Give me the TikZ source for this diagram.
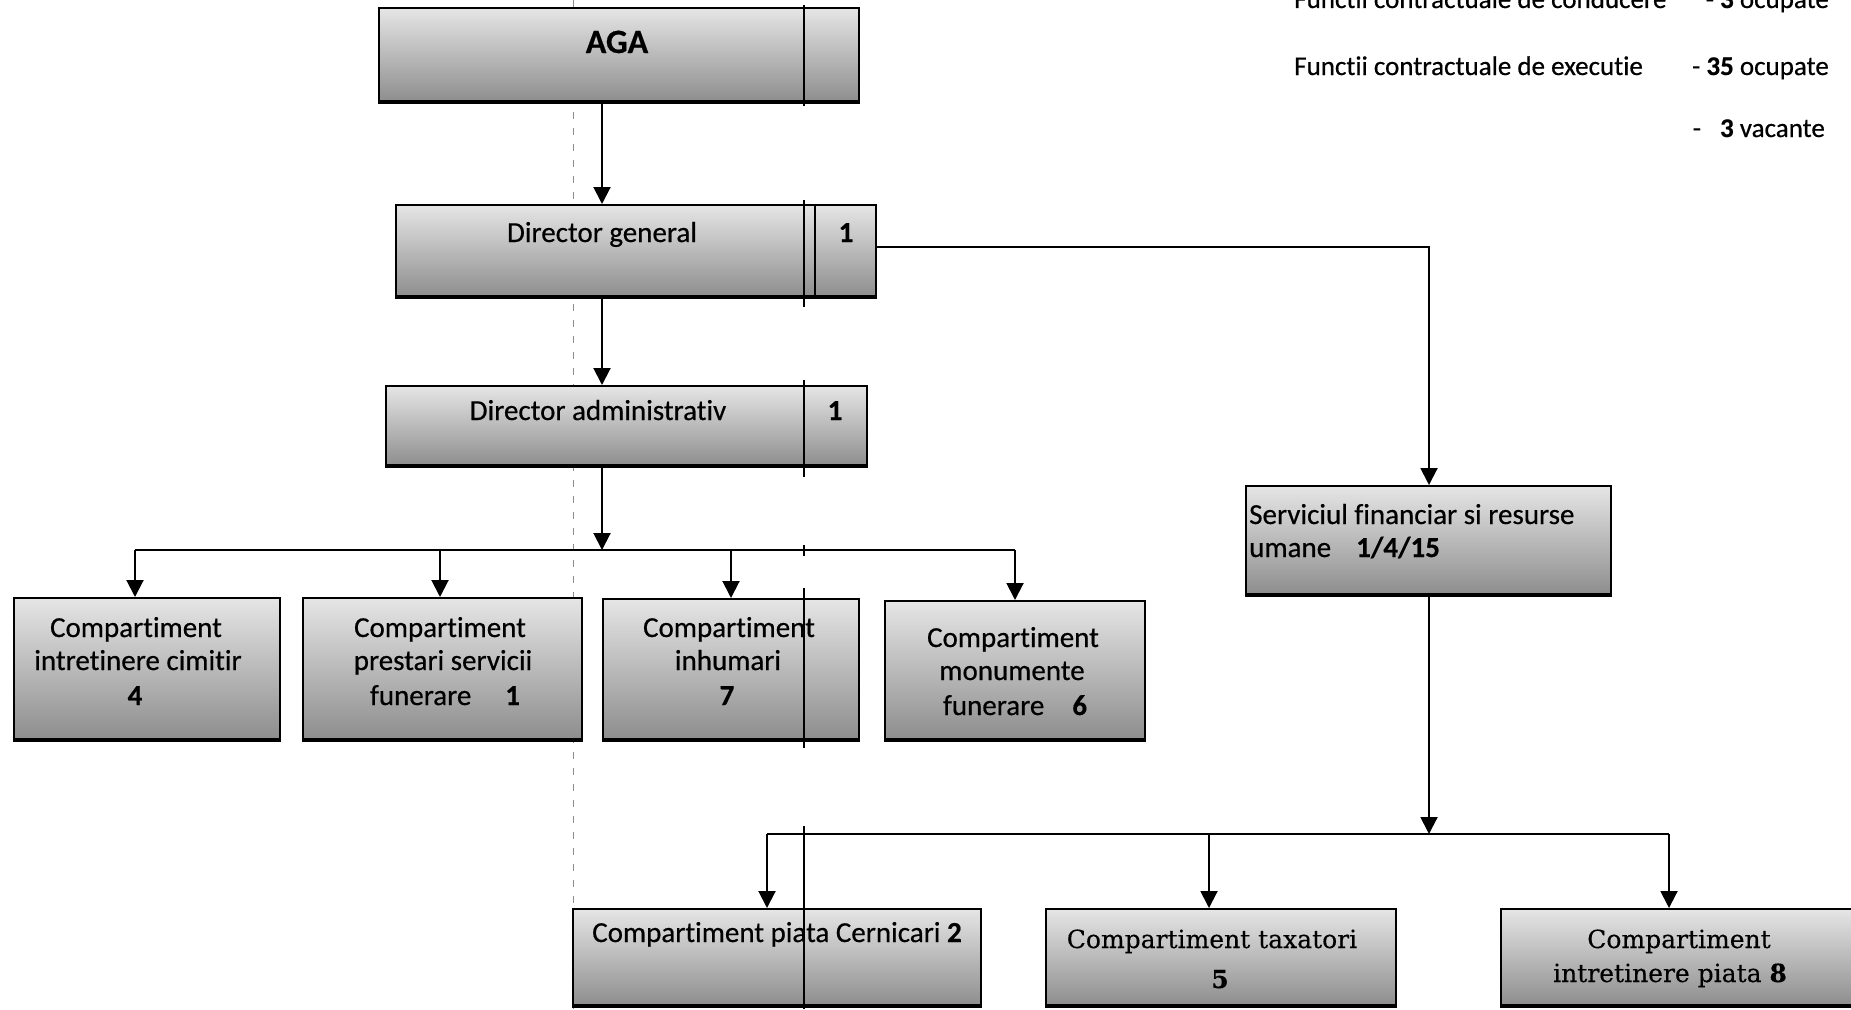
\documentclass[tikz,border=0pt]{standalone}
\usepackage{fontspec}
\setmainfont{Carlito}[Ligatures=NoCommon, FakeBold=0.5]
\newfontfamily\cambriaish{DejaVu Serif}[Ligatures=NoCommon, FakeBold=0.3]
\usetikzlibrary{arrows.meta}
\newcommand\orgbx[5]{%
  \node[orgbox, minimum width={#4pt-#2pt}, minimum height={#5pt-#3pt}] (#1) at (#2,#3) {};
  \draw[line width=4pt] ([yshift=1.5pt]#1.south west) -- ([yshift=1.5pt]#1.south east);}
\begin{document}
\begin{tikzpicture}[x=1pt,y=-1pt,
  orgbox/.style={rectangle, draw=black, line width=1.8pt, top color=black!10, bottom color=black!45, inner sep=0pt, anchor=north west},
  txt/.style={font=\fontsize{29}{35}\selectfont, inner sep=0pt, anchor=base},
  txtl/.style={txt, anchor=base west},
  stxt/.style={font=\cambriaish\fontsize{25}{30}\selectfont, inner sep=0pt, anchor=base},
  note/.style={font=\fontsize{27}{32}\selectfont, inner sep=0pt},
  arr/.style={line width=2pt, -{Triangle[width=17pt,length=17pt]}},
  ln/.style={line width=2pt},
  fold/.style={line width=1.6pt},
  foldd/.style={line width=0.9pt, black!45, dash pattern=on 7pt off 9pt}]
\path[fill=white] (0,0) rectangle (1851,1009);
\useasboundingbox (0,0) rectangle (1851,1009);
\clip (0,0) rectangle (1851,1009);

% scan fold line (dashed)
\draw[foldd] (573,0) -- (573,1009);

% boxes
\orgbx{aga}{378}{7}{858}{102}
\orgbx{dg}{395}{204}{875}{297}
\orgbx{da}{385}{385}{866}{466}
\orgbx{ca}{13}{597}{279}{740}
\orgbx{cb}{302}{597}{581}{740}
\orgbx{cc}{602}{598}{858}{740}
\orgbx{cd}{884}{600}{1144}{740}
\orgbx{serv}{1245}{485}{1610}{595}
\orgbx{ba}{572}{908}{980}{1006}
\orgbx{bb}{1045}{908}{1395}{1006}
\orgbx{bc}{1500}{908}{1870}{1006}

% separators and fold lines
\draw[fold] (dg.north -| 815,0) -- (dg.south -| 815,0);
\draw[fold] (804,5) -- (804,106);
\draw[fold] (804,200) -- (804,307);
\draw[fold] (804,380) -- (804,477);
\draw[fold] (804,545) -- (804,556);
\draw[fold] (804,588) -- (804,748);
\draw[fold] (804,826) -- (804,1009);

% texts
\node[txt, font=\fontsize{34}{40}\selectfont\bfseries] (tAGA) at (617,53) {AGA};
\node[txt] (tDG) at (602,242) {Director general};
\node[txt] (tDG1) at (846,242) {\textbf{1}};
\node[txt] (tDA) at (598,420) {Director administrativ};
\node[txt] (tDA1) at (835,420) {\textbf{1}};

\node[txt] (tca1) at (136,637) {Compartiment};
\node[txt] (tca2) at (138,670) {intretinere cimitir};
\node[txt] (tca3) at (135,705) {\textbf{4}};

\node[txt] (tcb1) at (440,637) {Compartiment};
\node[txt] (tcb2) at (443,670) {prestari servicii};
\node[txt] (tcb3) at (445,705) {funerare\hspace{34pt}\textbf{1}};

\node[txt] (tcc1) at (729,637) {Compartiment};
\node[txt] (tcc2) at (728,670) {inhumari};
\node[txt] (tcc3) at (727,705) {\textbf{7}};

\node[txt] (tcd1) at (1013,647) {Compartiment};
\node[txt] (tcd2) at (1012,680) {monumente};
\node[txt] (tcd3) at (1015,715) {funerare\hspace{28pt}\textbf{6}};

\node[txtl] (ts1) at (1249,524) {Serviciul financiar si resurse};
\node[txtl] (ts2) at (1249,557) {umane};
\node[txtl] (ts3) at (1356,557) {\textbf{1/4/15}};

\node[txt] (tba) at (777,942) {Compartiment piata Cernicari \textbf{2}};
\node[stxt] (tbb1) at (1212,948) {Compartiment taxatori};
\node[stxt] (tbb2) at (1220,988) {\textbf{5}};
\node[stxt] (tbc1) at (1679,948) {Compartiment};
\node[stxt] (tbc2) at (1670,982) {intretinere piata \textbf{8}};

% notes top right
\node[note, anchor=base west] (n1a) at (1294,8) {Functii contractuale de conducere};
\node[note, anchor=base east] (n1b) at (1829,8) {- \textbf{3} ocupate};
\node[note, anchor=base west] (n2a) at (1294,75) {Functii contractuale de executie};
\node[note, anchor=base east] (n2b) at (1829,75) {- \textbf{35} ocupate};
\node[note, anchor=base east] (n3) at (1825,137) {-\hspace{19pt}\textbf{3} vacante};

% connectors
\coordinate (spine) at (602,550);
\draw[arr] (aga.south -| spine) -- (dg.north -| spine);
\draw[arr] (dg.south -| spine) -- (da.north -| spine);
\draw[arr] (da.south -| spine) -- (spine);
\coordinate (h1) at (135,550);
\coordinate (h2) at (440,550);
\coordinate (h3) at (731,550);
\coordinate (h4) at (1015,550);
\draw[ln] (h1) -- (h4);
\draw[arr] (h1) -- (h1 |- ca.north);
\draw[arr] (h2) -- (h2 |- cb.north);
\draw[arr] (h3) -- (h3 |- cc.north);
\draw[arr] (h4) -- (h4 |- cd.north);

\coordinate (k1) at (1429,247);
\draw[arr] (k1 -| dg.east) -- (k1) -- (k1 |- serv.north);
\coordinate (bar2) at (1429,834);
\draw[arr] (serv.south -| bar2) -- (bar2);
\coordinate (q1) at (767,834);
\coordinate (q2) at (1209,834);
\coordinate (q3) at (1669,834);
\draw[ln] (q1) -- (q3);
\draw[arr] (q1) -- (q1 |- ba.north);
\draw[arr] (q2) -- (q2 |- bb.north);
\draw[arr] (q3) -- (q3 |- bc.north);
\end{tikzpicture}
\end{document}
